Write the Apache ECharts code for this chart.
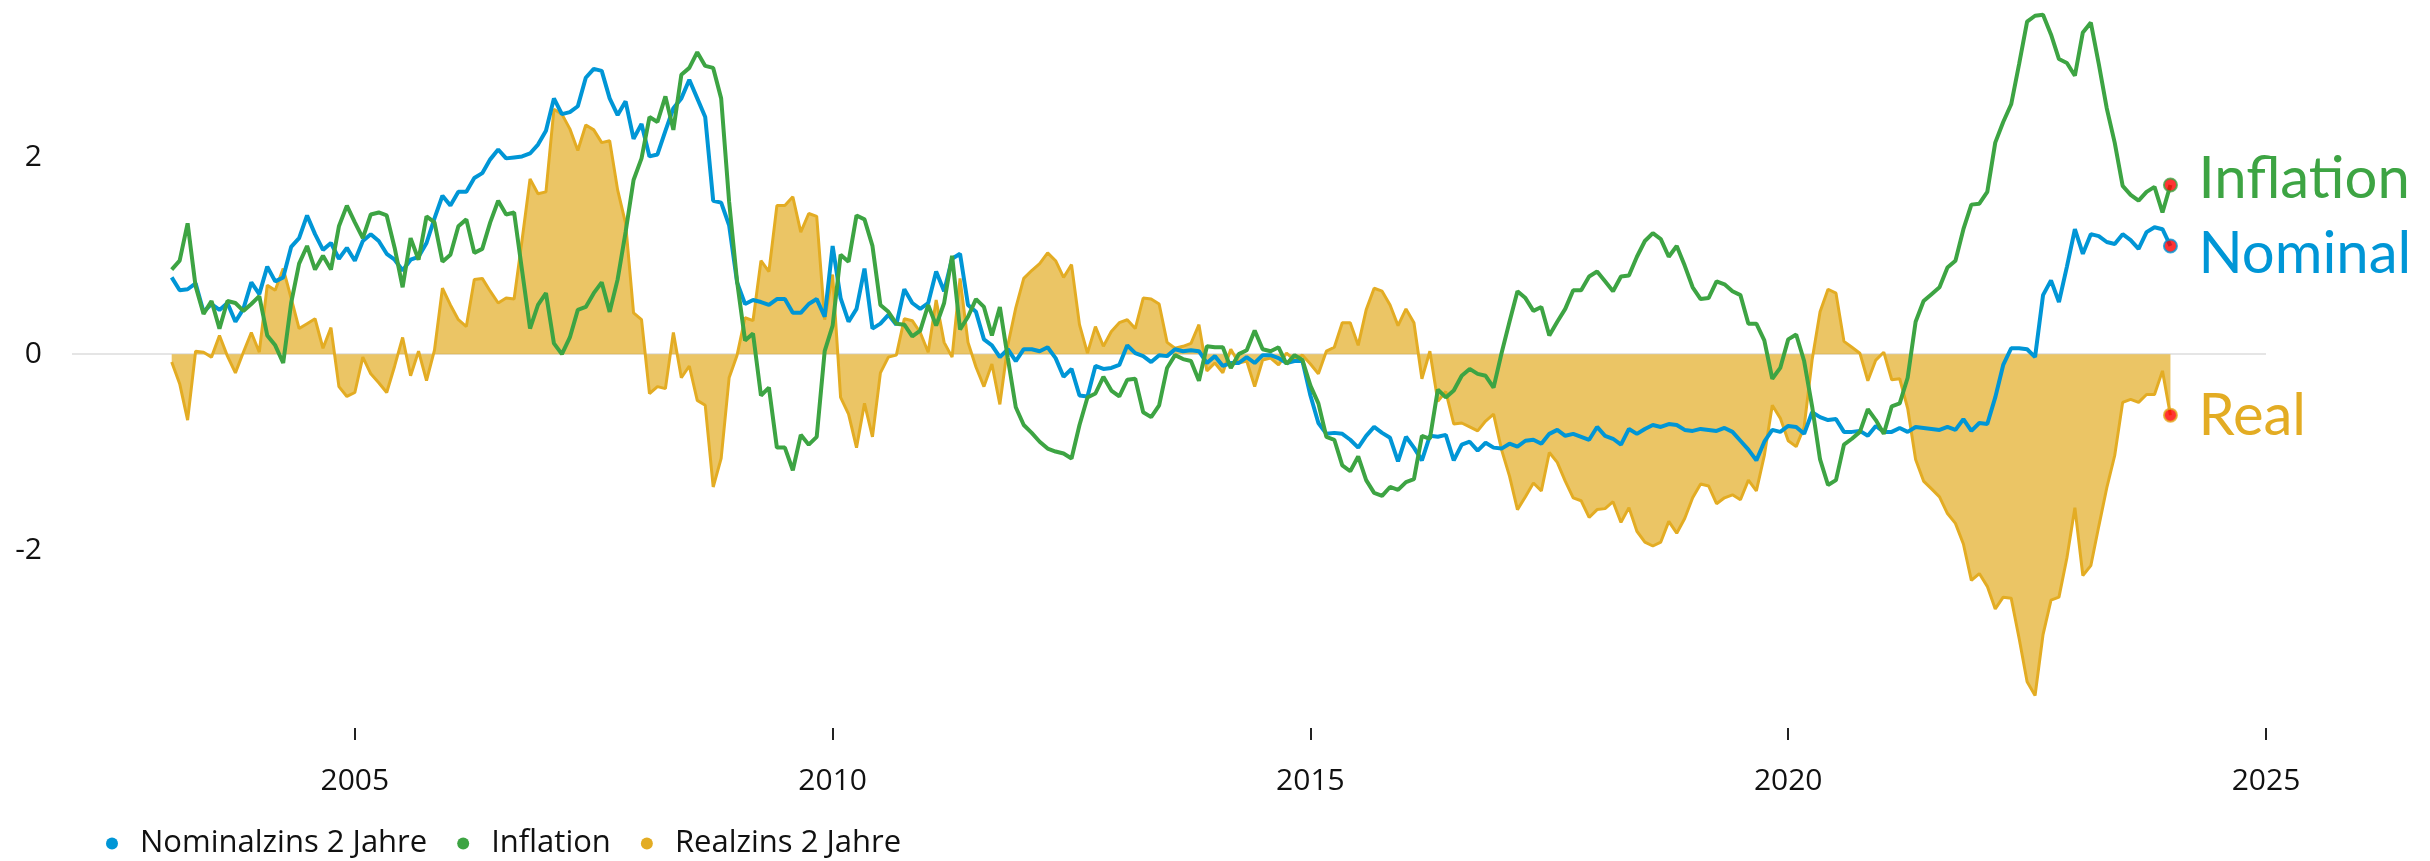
<!DOCTYPE html>
<html>
<head>
<meta charset="utf-8">
<script src="https://cdn.jsdelivr.net/npm/echarts@6/dist/echarts.min.js"></script>
<style>
html,body{margin:0;padding:0;background:#fff;}
#chart{width:2430px;height:861px;}
</style>
</head>
<body>
<div id="chart"></div>
<script>
// Monthly observations, Jan 2003 .. Dec 2023 (month-end), one row per year
const startYear = 2003;

const nominal = [
  0.78,0.65,0.66,0.72,0.43,0.51,0.45,0.52,0.33,0.46,0.73,0.61,
  0.89,0.74,0.78,1.09,1.18,1.41,1.22,1.06,1.13,0.97,1.08,0.95,
  1.15,1.22,1.15,1.02,0.96,0.85,0.96,0.99,1.13,1.38,1.61,1.51,
  1.65,1.65,1.79,1.84,1.98,2.08,1.99,2.00,2.01,2.04,2.13,2.27,
  2.60,2.44,2.46,2.52,2.81,2.90,2.88,2.60,2.43,2.57,2.19,2.34,
  2.01,2.03,2.27,2.50,2.60,2.79,2.60,2.41,1.56,1.54,1.31,0.73,
  0.51,0.55,0.53,0.50,0.56,0.56,0.42,0.42,0.51,0.56,0.38,1.10,
  0.57,0.33,0.46,0.87,0.26,0.31,0.40,0.30,0.66,0.52,0.46,0.52,
  0.84,0.64,0.97,1.02,0.50,0.43,0.15,0.09,-0.03,0.05,-0.07,0.05,
  0.05,0.03,0.07,-0.04,-0.23,-0.15,-0.42,-0.43,-0.12,-0.15,-0.14,-0.11,
  0.09,0.01,-0.02,-0.08,-0.01,-0.02,0.05,0.03,0.04,0.03,-0.09,-0.02,
  -0.12,-0.09,-0.09,-0.03,-0.09,-0.01,-0.01,-0.04,-0.09,-0.07,-0.07,-0.42,
  -0.70,-0.81,-0.80,-0.81,-0.87,-0.95,-0.83,-0.74,-0.80,-0.85,-1.09,-0.84,
  -0.95,-1.08,-0.83,-0.84,-0.82,-1.08,-0.92,-0.89,-0.98,-0.90,-0.95,-0.96,
  -0.91,-0.94,-0.88,-0.87,-0.91,-0.81,-0.77,-0.83,-0.81,-0.84,-0.87,-0.74,
  -0.83,-0.86,-0.92,-0.76,-0.81,-0.76,-0.72,-0.74,-0.71,-0.72,-0.77,-0.78,
  -0.76,-0.77,-0.78,-0.75,-0.79,-0.88,-0.97,-1.08,-0.89,-0.77,-0.79,-0.73,
  -0.74,-0.81,-0.59,-0.64,-0.67,-0.66,-0.79,-0.79,-0.78,-0.83,-0.73,-0.79,
  -0.79,-0.75,-0.79,-0.74,-0.75,-0.76,-0.77,-0.74,-0.77,-0.66,-0.78,-0.70,
  -0.71,-0.44,-0.11,0.06,0.06,0.05,-0.03,0.60,0.75,0.53,0.89,1.27,
  1.02,1.22,1.20,1.14,1.12,1.22,1.16,1.07,1.24,1.29,1.27,1.10
];

const inflation = [
  0.86,0.95,1.33,0.69,0.41,0.54,0.26,0.54,0.52,0.44,0.51,0.59,
  0.19,0.09,-0.09,0.52,0.92,1.10,0.86,1.00,0.86,1.30,1.51,1.34,
  1.18,1.42,1.44,1.41,1.08,0.68,1.18,0.96,1.40,1.34,0.94,1.01,
  1.30,1.37,1.03,1.07,1.34,1.56,1.42,1.44,0.85,0.26,0.50,0.62,
  0.11,0.00,0.17,0.45,0.48,0.62,0.73,0.43,0.76,1.24,1.77,1.99,
  2.41,2.36,2.62,2.28,2.84,2.91,3.07,2.93,2.91,2.60,1.55,0.74,
  0.14,0.21,-0.42,-0.34,-0.95,-0.95,-1.18,-0.82,-0.92,-0.84,0.03,0.29,
  1.01,0.94,1.41,1.37,1.10,0.50,0.43,0.31,0.30,0.18,0.24,0.50,
  0.29,0.52,1.00,0.25,0.38,0.56,0.48,0.19,0.48,-0.04,-0.54,-0.72,
  -0.80,-0.89,-0.96,-0.99,-1.01,-1.06,-0.72,-0.44,-0.40,-0.23,-0.37,-0.43,
  -0.26,-0.25,-0.59,-0.64,-0.52,-0.14,-0.01,-0.05,-0.07,-0.27,0.08,0.07,
  0.07,-0.14,0.00,0.04,0.24,0.05,0.03,0.07,-0.10,-0.01,-0.06,-0.32,
  -0.50,-0.84,-0.87,-1.13,-1.19,-1.04,-1.28,-1.41,-1.44,-1.35,-1.38,-1.30,
  -1.27,-0.83,-0.86,-0.36,-0.44,-0.37,-0.22,-0.15,-0.20,-0.22,-0.34,0.01,
  0.33,0.64,0.57,0.44,0.48,0.19,0.33,0.46,0.65,0.65,0.79,0.84,
  0.74,0.64,0.79,0.80,0.99,1.15,1.23,1.17,0.99,1.10,0.90,0.68,
  0.56,0.57,0.74,0.71,0.64,0.60,0.31,0.31,0.14,-0.25,-0.14,0.15,
  0.20,-0.07,-0.53,-1.07,-1.33,-1.28,-0.92,-0.86,-0.79,-0.56,-0.67,-0.81,
  -0.53,-0.50,-0.24,0.33,0.54,0.61,0.68,0.88,0.95,1.27,1.52,1.53,
  1.65,2.15,2.36,2.54,2.95,3.38,3.44,3.45,3.25,3.00,2.96,2.83,
  3.27,3.37,2.95,2.50,2.15,1.71,1.62,1.56,1.65,1.70,1.44,1.72
];

const real = [
  -0.08,-0.30,-0.67,0.03,0.02,-0.03,0.19,-0.02,-0.19,0.02,0.22,0.02,
  0.70,0.65,0.87,0.57,0.26,0.31,0.36,0.06,0.27,-0.33,-0.43,-0.39,
  -0.03,-0.20,-0.29,-0.39,-0.12,0.17,-0.22,0.03,-0.27,0.04,0.67,0.50,
  0.35,0.28,0.76,0.77,0.64,0.52,0.57,0.56,1.16,1.78,1.63,1.65,
  2.49,2.44,2.29,2.07,2.33,2.28,2.15,2.17,1.67,1.33,0.42,0.35,
  -0.40,-0.33,-0.35,0.22,-0.24,-0.12,-0.47,-0.52,-1.35,-1.06,-0.24,-0.01,
  0.37,0.34,0.95,0.84,1.51,1.51,1.60,1.24,1.43,1.40,0.35,0.81,
  -0.44,-0.61,-0.95,-0.50,-0.84,-0.19,-0.03,-0.01,0.36,0.34,0.22,0.02,
  0.55,0.12,-0.03,0.77,0.12,-0.13,-0.33,-0.10,-0.51,0.09,0.47,0.77,
  0.85,0.92,1.03,0.95,0.78,0.91,0.30,0.01,0.28,0.08,0.23,0.32,
  0.35,0.26,0.57,0.56,0.51,0.12,0.06,0.08,0.11,0.30,-0.17,-0.09,
  -0.19,0.05,-0.09,-0.07,-0.33,-0.06,-0.04,-0.11,0.01,-0.06,-0.01,-0.10,
  -0.20,0.03,0.07,0.32,0.32,0.09,0.45,0.67,0.64,0.50,0.29,0.46,
  0.32,-0.25,0.03,-0.48,-0.38,-0.71,-0.70,-0.74,-0.78,-0.68,-0.61,-0.97,
  -1.24,-1.58,-1.45,-1.31,-1.39,-1.00,-1.10,-1.29,-1.46,-1.49,-1.66,-1.58,
  -1.57,-1.50,-1.71,-1.56,-1.80,-1.91,-1.95,-1.91,-1.70,-1.82,-1.67,-1.46,
  -1.32,-1.34,-1.52,-1.46,-1.43,-1.48,-1.28,-1.39,-1.03,-0.52,-0.65,-0.88,
  -0.94,-0.74,-0.06,0.43,0.66,0.62,0.13,0.07,0.01,-0.27,-0.06,0.02,
  -0.26,-0.25,-0.55,-1.07,-1.29,-1.37,-1.45,-1.62,-1.72,-1.93,-2.30,-2.23,
  -2.36,-2.59,-2.47,-2.48,-2.89,-3.33,-3.47,-2.85,-2.50,-2.47,-2.07,-1.56,
  -2.25,-2.15,-1.75,-1.36,-1.03,-0.49,-0.46,-0.49,-0.41,-0.41,-0.17,-0.62
];

const xTicks = [2005, 2010, 2015, 2020, 2025];
const yTicks = [-2, 0, 2];
const legendNames = ['Nominalzins 2 Jahre', 'Inflation', 'Realzins 2 Jahre'];
const endNames = ['Nominal', 'Inflation', 'Real'];

const C_NOM = '#0096d6';
const C_INF = '#3da443';
const C_REAL = '#e3ac23';

// month-end positions in decimal years
const t = nominal.map((_, i) => startYear + (i + 1) / 12);
const pairs = arr => arr.map((v, i) => [t[i], v]);
const last = nominal.length - 1;

function endLabel(text, color, dy) {
  return {
    show: true,
    formatter: text,
    distance: 10,
    offset: [0, dy],
    padding: [0, 0, 0, 18],
    backgroundColor: '#ffffff',
    color: color,
    fontFamily: 'Lato',
    fontSize: 58,
    lineHeight: 66
  };
}

const chart = echarts.init(document.getElementById('chart'), null, { renderer: 'canvas' });
chart.setOption({
  animation: false,
  backgroundColor: '#ffffff',
  grid: { left: 72, right: 164, top: 0, bottom: 133, containLabel: false },
  legend: {
    data: legendNames,
    icon: 'circle',
    left: 101,
    top: 823,
    itemWidth: 46,
    itemHeight: 12,
    itemGap: 30,
    textStyle: { fontFamily: 'Open Sans', fontSize: 31, color: '#111' }
  },
  xAxis: {
    type: 'value',
    min: 2002.04,
    max: 2025,
    axisLine: { show: false, onZero: false },
    axisTick: { show: true, length: 12, customValues: xTicks, lineStyle: { color: '#222', width: 2 } },
    axisLabel: {
      customValues: xTicks,
      formatter: v => String(v),
      margin: 38,
      fontFamily: 'Open Sans',
      fontSize: 30,
      color: '#111'
    },
    splitLine: { show: false }
  },
  yAxis: {
    type: 'value',
    min: -3.8,
    max: 3.6,
    axisLine: { show: false },
    axisTick: { show: false, customValues: yTicks },
    axisLabel: {
      customValues: yTicks,
      formatter: v => String(v),
      margin: 30,
      fontFamily: 'Open Sans',
      fontSize: 30,
      color: '#111'
    },
    splitLine: { show: true, showMinLine: false, showMaxLine: false, lineStyle: { color: '#dcdcdc', width: 1.5 } }
  },
  series: [
    {
      name: legendNames[2],
      type: 'line',
      data: pairs(real),
      showSymbol: false,
      symbol: 'none',
      itemStyle: { color: C_REAL },
      lineStyle: { color: C_REAL, width: 3 },
      areaStyle: { color: C_REAL, opacity: 0.7, origin: 0 },
      endLabel: endLabel(endNames[2], C_REAL, 1),
      z: 2
    },
    {
      name: legendNames[0],
      type: 'line',
      data: pairs(nominal),
      showSymbol: false,
      symbol: 'none',
      itemStyle: { color: C_NOM },
      lineStyle: { color: C_NOM, width: 4 },
      endLabel: endLabel(endNames[0], C_NOM, 8),
      z: 3
    },
    {
      name: legendNames[1],
      type: 'line',
      data: pairs(inflation),
      showSymbol: false,
      symbol: 'none',
      itemStyle: { color: C_INF },
      lineStyle: { color: C_INF, width: 4 },
      endLabel: endLabel(endNames[1], C_INF, -6),
      z: 4
    },
    {
      name: 'ends',
      type: 'scatter',
      symbol: 'circle',
      symbolSize: 13,
      z: 6,
      data: [
        { value: [t[last], inflation[last]], itemStyle: { color: '#ff0000', borderColor: C_INF, borderWidth: 2 } },
        { value: [t[last], nominal[last]], itemStyle: { color: '#ff0000', borderColor: C_NOM, borderWidth: 2 } },
        { value: [t[last], real[last]], itemStyle: { color: '#ff0000', borderColor: C_REAL, borderWidth: 2 } }
      ]
    }
  ]
});
</script>
</body>
</html>
